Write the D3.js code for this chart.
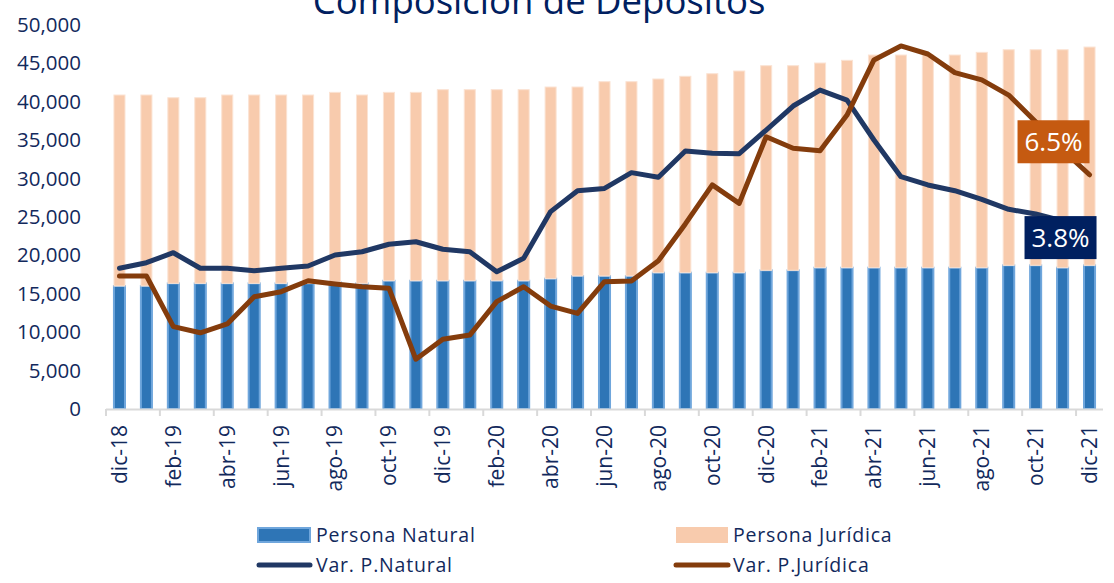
<!DOCTYPE html>
<html>
<head>
<meta charset="utf-8">
<script src="https://cdn.jsdelivr.net/npm/d3@7"></script>
<style>
  body { margin: 0; background: #fff; }
  svg { font-family: "Open Sans", sans-serif; }
</style>
</head>
<body>
<svg width="1114" height="583"></svg>
<script>
const months = [
  "dic-18", "ene-19", "feb-19", "mar-19", "abr-19", "may-19", "jun-19", "jul-19", "ago-19", "sep-19", "oct-19", "nov-19",
  "dic-19", "ene-20", "feb-20", "mar-20", "abr-20", "may-20", "jun-20", "jul-20", "ago-20", "sep-20", "oct-20", "nov-20",
  "dic-20", "ene-21", "feb-21", "mar-21", "abr-21", "may-21", "jun-21", "jul-21", "ago-21", "sep-21", "oct-21", "nov-21",
  "dic-21"
];

// saldos (stacked bars)
const personaNatural = [
  16015, 16015, 16360, 16360, 16360, 16360, 16360, 16360, 16500, 16360, 16700, 16700,
  16700, 16700, 16700, 16700, 16970, 17320, 17320, 17320, 17750, 17750, 17750, 17750,
  18060, 18060, 18400, 18400, 18400, 18400, 18400, 18400, 18400, 18710, 18710, 18400,
  18710
];
const personaJuridica = [
  24870, 24870, 24170, 24170, 24525, 24525, 24525, 24525, 24730, 24525, 24530, 24530,
  24880, 24880, 24880, 24880, 24955, 24605, 25300, 25300, 25220, 25570, 25910, 26260,
  26640, 26640, 26650, 27000, 27690, 27690, 27690, 27690, 28040, 28070, 28070, 28380,
  28420
];

// variaciones (%), hidden secondary axis
const varNatural = [
  1.63, 1.92, 2.44, 1.63, 1.63, 1.50, 1.63, 1.75, 2.32, 2.49, 2.88, 3.01,
  2.62, 2.49, 1.45, 2.15, 4.58, 5.67, 5.79, 6.61, 6.37, 7.74, 7.62, 7.60,
  8.83, 10.08, 10.91, 10.39, 8.31, 6.40, 5.97, 5.67, 5.22, 4.70, 4.46, 4.10,
  3.80
];
const varJuridica = [
  1.23, 1.23, -1.41, -1.73, -1.27, 0.15, 0.41, 0.98, 0.81, 0.67, 0.59, -3.11,
  -2.07, -1.85, -0.11, 0.67, -0.34, -0.72, 0.93, 0.97, 2.02, 3.94, 5.97, 5.01,
  8.48, 7.88, 7.75, 9.61, 12.48, 13.21, 12.79, 11.82, 11.44, 10.65, 9.26, 7.79,
  6.50
];

const yTicks = [0, 5000, 10000, 15000, 20000, 25000, 30000, 35000, 40000, 45000, 50000];
const xTickLabels = months.filter((d, i) => i % 2 === 0);

const colNatural = "#2E75B6";
const colJuridica = "#F8CBAD";
const colVarNat = "#203864";
const colVarJur = "#843C0C";
const textCol = "#12295C";

const svg = d3.select("svg");

const x = d3.scaleBand()
  .domain(months)
  .range([106, 1103])
  .paddingInner(0.59)
  .paddingOuter(0.295);
const y = d3.scaleLinear().domain([0, 50000]).range([409, 25]);
const y2 = d3.scaleLinear().domain([-5.7, 14.3]).range([409, 25]);
const cx = (d) => x(d) + x.bandwidth() / 2;

// title (cut at the top, as in the original)
svg.append("text")
  .attr("x", 539)
  .attr("y", 14)
  .attr("text-anchor", "middle")
  .attr("fill", "#002060")
  .style("font-size", "36.5px")
  .text("Composición de Depósitos");

// y axis
const yAxis = svg.append("g")
  .attr("transform", "translate(106,0)")
  .call(d3.axisLeft(y).tickValues(yTicks).tickFormat(d3.format(",")).tickSize(0).tickPadding(25));
yAxis.select(".domain").remove();
yAxis.selectAll("text").attr("fill", textCol).style("font-size", "20.5px").style("font-family", "Open Sans");

// stacked bars
const table = months.map((m, i) => ({ mes: m, natural: personaNatural[i], juridica: personaJuridica[i] }));
const series = d3.stack().keys(["natural", "juridica"])(table);

svg.append("g")
  .selectAll("g")
  .data(series)
  .join("g")
  .attr("fill", (s) => (s.key === "natural" ? colNatural : colJuridica))
  .attr("stroke", (s) => (s.key === "natural" ? "#6FA6DC" : "#FBE3D3"))
  .attr("stroke-width", (s) => (s.key === "natural" ? 2 : 1))
  .selectAll("rect")
  .data((s) => s)
  .join("rect")
  .attr("x", (d) => x(d.data.mes))
  .attr("width", x.bandwidth())
  .attr("y", (d) => y(d[1]))
  .attr("height", (d) => y(d[0]) - y(d[1]));

// x axis
svg.append("line")
  .attr("x1", x.range()[0]).attr("x2", x.range()[1])
  .attr("y1", y(0) + 0.5).attr("y2", y(0) + 0.5)
  .attr("stroke", "#D9D9D9").attr("stroke-width", 2);

svg.append("g")
  .selectAll("line")
  .data(xTickLabels)
  .join("line")
  .attr("x1", (d) => x(d) - (x.step() - x.bandwidth()) / 2)
  .attr("x2", (d) => x(d) - (x.step() - x.bandwidth()) / 2)
  .attr("y1", y(0))
  .attr("y2", y(0) + 7)
  .attr("stroke", "#D9D9D9").attr("stroke-width", 2);

svg.append("g")
  .selectAll("text")
  .data(xTickLabels)
  .join("text")
  .attr("transform", (d) => `translate(${cx(d)},425) rotate(-90)`)
  .attr("text-anchor", "end")
  .attr("dy", "0.35em")
  .attr("fill", textCol)
  .style("font-size", "21px")
  .text((d) => d);

// lines
const line = d3.line()
  .x((d) => cx(d.mes))
  .y((d) => y2(d.v));

const natPts = months.map((m, i) => ({ mes: m, v: varNatural[i] }));
const jurPts = months.map((m, i) => ({ mes: m, v: varJuridica[i] }));

svg.append("path")
  .datum(natPts)
  .attr("d", line)
  .attr("fill", "none")
  .attr("stroke", colVarNat)
  .attr("stroke-width", 5)
  .attr("stroke-linejoin", "round")
  .attr("stroke-linecap", "round");

svg.append("path")
  .datum(jurPts)
  .attr("d", line)
  .attr("fill", "none")
  .attr("stroke", colVarJur)
  .attr("stroke-width", 5)
  .attr("stroke-linejoin", "round")
  .attr("stroke-linecap", "round");

// last value labels
function lastLabel(pts, dx, dy, fill) {
  const p = pts[pts.length - 1];
  const px = cx(p.mes) + dx;
  const py = y2(p.v) + dy;
  const g = svg.append("g").attr("transform", `translate(${px},${py})`);
  g.append("rect")
    .attr("x", -36).attr("y", -21.5)
    .attr("width", 72).attr("height", 43)
    .attr("fill", fill);
  g.append("text")
    .attr("text-anchor", "middle")
    .attr("dy", "0.36em")
    .attr("fill", "#fff")
    .style("font-size", "26px")
    .text(d3.format(".1f")(p.v) + "%");
}
lastLabel(jurPts, -36, -33, "#C55A11");
lastLabel(natPts, -29, 11, "#002060");

// legend
const legend = svg.append("g").style("font-size", "19.5px").style("letter-spacing", "0.8px");

legend.append("rect").attr("x", 258).attr("y", 528).attr("width", 52).attr("height", 14)
  .attr("fill", colNatural).attr("stroke", "#6FA6DC").attr("stroke-width", 2);
legend.append("text").attr("x", 316).attr("y", 535).attr("dy", "0.35em").attr("fill", textCol).text("Persona Natural");

legend.append("rect").attr("x", 676).attr("y", 527).attr("width", 52).attr("height", 16)
  .attr("fill", colJuridica);
legend.append("text").attr("x", 733).attr("y", 535).attr("dy", "0.35em").attr("fill", textCol).text("Persona Jurídica");

legend.append("line").attr("x1", 259).attr("x2", 310).attr("y1", 565).attr("y2", 565)
  .attr("stroke", colVarNat).attr("stroke-width", 5).attr("stroke-linecap", "round");
legend.append("text").attr("x", 316).attr("y", 565).attr("dy", "0.35em").attr("fill", textCol).text("Var. P.Natural");

legend.append("line").attr("x1", 676).attr("x2", 728).attr("y1", 565).attr("y2", 565)
  .attr("stroke", colVarJur).attr("stroke-width", 5).attr("stroke-linecap", "round");
legend.append("text").attr("x", 733).attr("y", 565).attr("dy", "0.35em").attr("fill", textCol).text("Var. P.Jurídica");
</script>
</body>
</html>
